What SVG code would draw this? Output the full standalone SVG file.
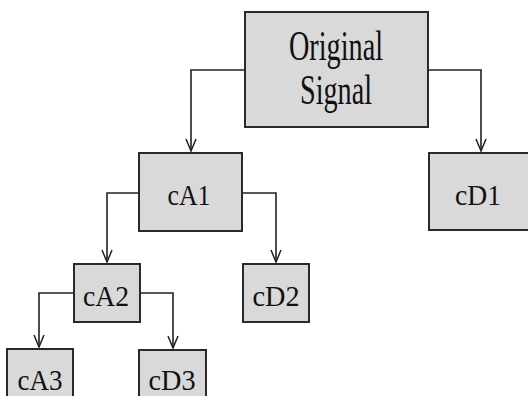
<svg xmlns="http://www.w3.org/2000/svg" width="528" height="396" viewBox="0 0 528 396">
<style>
.box{fill:#d9d9d9;stroke:#2a2a2a;stroke-width:2}
.lbl{font-family:"Liberation Serif","Times New Roman",serif;fill:#111;text-anchor:middle}
.big{font-size:42px}
.mid{font-size:30px}
.con{fill:none;stroke:#222;stroke-width:1.6}
</style>
<defs>
<marker id="arr" markerWidth="12" markerHeight="14" refX="6" refY="13" orient="0" markerUnits="userSpaceOnUse">
<path d="M1,1 L6,13 L11,1" fill="none" stroke="#222" stroke-width="1.5"/>
</marker>
</defs>
<rect width="528" height="396" fill="#fff"/>
<g id="connectors">
<path class="con" d="M245,70 H191 V151" marker-end="url(#arr)"/>
<path class="con" d="M428,70 H481 V151" marker-end="url(#arr)"/>
<path class="con" d="M139,193 H107 V262" marker-end="url(#arr)"/>
<path class="con" d="M242,193 H276 V262" marker-end="url(#arr)"/>
<path class="con" d="M74,293 H39 V347" marker-end="url(#arr)"/>
<path class="con" d="M140,293 H173 V348" marker-end="url(#arr)"/>
</g>
<g id="original">
<rect class="box" x="245" y="12" width="183" height="115"/>
<text class="lbl big" x="336" y="60" textLength="94" lengthAdjust="spacingAndGlyphs">Original</text>
<text class="lbl big" x="336" y="104" textLength="72" lengthAdjust="spacingAndGlyphs">Signal</text>
</g>
<g id="cA1">
<rect class="box" x="139" y="153" width="103" height="78"/>
<text class="lbl mid" x="189" y="205" textLength="43" lengthAdjust="spacingAndGlyphs">cA1</text>
</g>
<g id="cD1">
<rect class="box" x="429" y="153" width="110" height="77"/>
<text class="lbl mid" x="478" y="205" textLength="46" lengthAdjust="spacingAndGlyphs">cD1</text>
</g>
<g id="cA2">
<rect class="box" x="74" y="264" width="66" height="58"/>
<text class="lbl mid" x="106" y="306" textLength="46" lengthAdjust="spacingAndGlyphs">cA2</text>
</g>
<g id="cD2">
<rect class="box" x="243" y="264" width="66" height="58"/>
<text class="lbl mid" x="276" y="306" textLength="47" lengthAdjust="spacingAndGlyphs">cD2</text>
</g>
<g id="cA3">
<rect class="box" x="7" y="349" width="66" height="60"/>
<text class="lbl mid" x="40" y="390" textLength="45" lengthAdjust="spacingAndGlyphs">cA3</text>
</g>
<g id="cD3">
<rect class="box" x="139" y="350" width="67" height="60"/>
<text class="lbl mid" x="172" y="390" textLength="47" lengthAdjust="spacingAndGlyphs">cD3</text>
</g>
</svg>
